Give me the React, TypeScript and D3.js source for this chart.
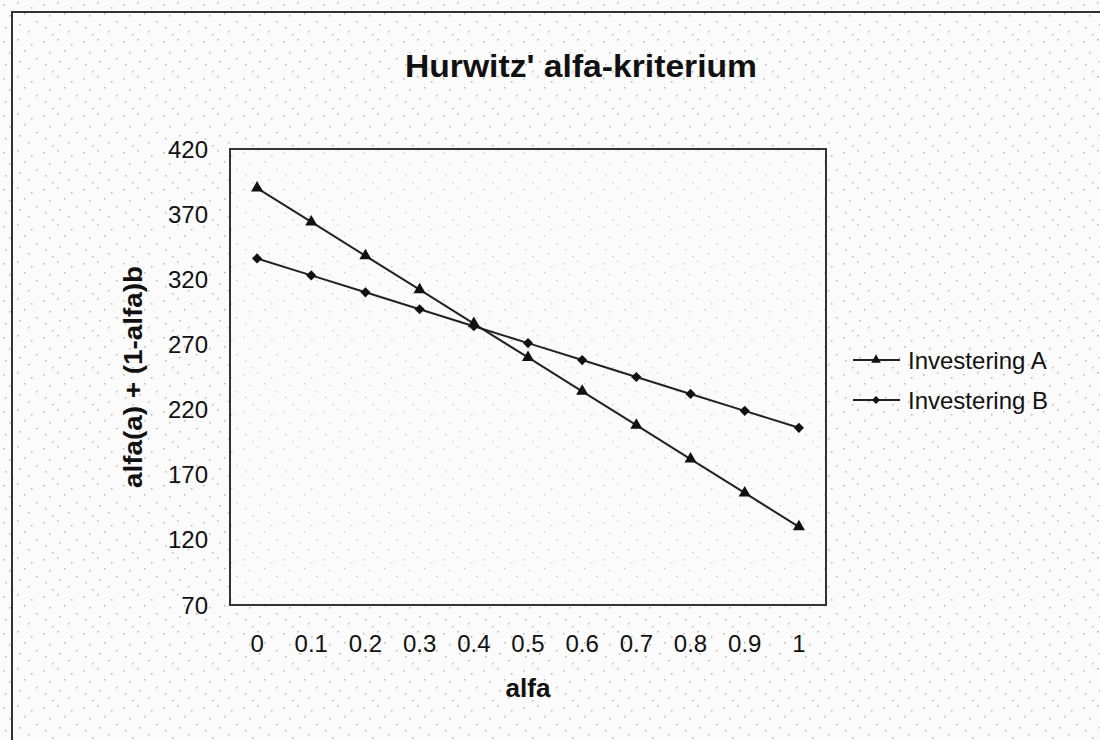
import * as d3 from "d3";

// alfa values on the x axis
const alfas = ["0", "0.1", "0.2", "0.3", "0.4", "0.5", "0.6", "0.7", "0.8", "0.9", "1"];
// alfa(a) + (1-alfa)b for each investment
const investeringA = [390, 364, 338, 312, 286, 260, 234, 208, 182, 156, 130];
const investeringB = [336, 323, 310, 297, 284, 271, 258, 245, 232, 219, 206];
const yTicks = [70, 120, 170, 220, 270, 320, 370, 420];

const series = [
  { name: "Investering A", values: investeringA, symbol: "triangle" },
  { name: "Investering B", values: investeringB, symbol: "diamond" },
];

const W = 1100;
const H = 740;
const plot = { left: 230, right: 826, top: 149, bottom: 605 };
const font = "'Liberation Sans', Arial, Helvetica, sans-serif";
const ink = "#111";

// scattered speckles of the scanned background, one tile
const speckDots = [
  [3, 4], [17, 2], [31, 7], [9, 15], [24, 13], [36, 21],
  [5, 27], [19, 24], [28, 31], [12, 34],
];

const App = () => {
  const x = d3
    .scaleBand<string>()
    .domain(alfas)
    .range([plot.left, plot.right]);

  const y = d3.scaleLinear().domain([70, 420]).range([plot.bottom, plot.top]);

  const cx = (i: number) => x(alfas[i])! + x.bandwidth() / 2;

  const line = d3
    .line<number>()
    .x((d, i) => cx(i))
    .y((d) => y(d));

  const marker = (kind: string, size: number) =>
    kind === "triangle"
      ? d3.symbol(d3.symbolTriangle, size)()!
      : d3.symbol(d3.symbolSquare, size)()!;

  const legendY = [360, 400];

  return (
    <svg
      width={W}
      height={H}
      style={{ position: "absolute", left: 0, top: 0, fontFamily: font }}
    >
      <defs>
        <pattern id="speck" width={40} height={37} patternUnits="userSpaceOnUse">
          <rect width={40} height={37} fill="#fbfbfb" />
          {speckDots.map(([px, py], i) => (
            <rect key={i} x={px} y={py} width={1.5} height={1.5} fill="#b8b8b8" />
          ))}
        </pattern>
      </defs>

      <rect x={0} y={0} width={W} height={H} fill="url(#speck)" />
      <rect
        x={12}
        y={12}
        width={W}
        height={H}
        fill="none"
        stroke="#333"
        strokeWidth={2}
      />

      {/* title is centred on the whole chart area, which runs past the crop */}
      <text
        x={581}
        y={77}
        textAnchor="middle"
        fontSize={32}
        fontWeight="bold"
        textLength={352}
        lengthAdjust="spacingAndGlyphs"
        fill={ink}
      >
        Hurwitz' alfa-kriterium
      </text>

      <rect
        x={plot.left}
        y={plot.top}
        width={plot.right - plot.left}
        height={plot.bottom - plot.top}
        fill="#fcfcfc"
        fillOpacity={0.4}
        stroke="#333"
        strokeWidth={2}
      />

      {yTicks.map((t) => (
        <text
          key={t}
          x={208}
          y={y(t)}
          dy="0.36em"
          textAnchor="end"
          fontSize={24}
          fill={ink}
        >
          {t}
        </text>
      ))}

      {alfas.map((a, i) => (
        <text
          key={a}
          x={cx(i)}
          y={652}
          textAnchor="middle"
          fontSize={24}
          fill={ink}
        >
          {a}
        </text>
      ))}

      <text
        x={(plot.left + plot.right) / 2}
        y={697}
        textAnchor="middle"
        fontSize={25}
        fontWeight="bold"
        textLength={45}
        lengthAdjust="spacingAndGlyphs"
        fill={ink}
      >
        alfa
      </text>

      <text
        transform={`translate(142,${(plot.top + plot.bottom) / 2}) rotate(-90)`}
        textAnchor="middle"
        fontSize={25}
        fontWeight="bold"
        textLength={222}
        lengthAdjust="spacingAndGlyphs"
        fill={ink}
      >
        alfa(a) + (1-alfa)b
      </text>

      {series.map((s) => (
        <g key={s.name}>
          <path d={line(s.values)!} fill="none" stroke="#222" strokeWidth={2} />
          {s.values.map((v, i) => (
            <path
              key={i}
              d={marker(s.symbol, s.symbol === "triangle" ? 64 : 52)}
              transform={`translate(${cx(i)},${y(v)})${
                s.symbol === "diamond" ? " rotate(45)" : ""
              }`}
              fill={ink}
            />
          ))}
        </g>
      ))}

      {series.map((s, i) => (
        <g key={s.name} transform={`translate(0,${legendY[i]})`}>
          <line x1={853} x2={900} y1={0} y2={0} stroke="#222" strokeWidth={2} />
          <path
            d={marker(s.symbol, s.symbol === "triangle" ? 40 : 32)}
            transform={`translate(876,0)${s.symbol === "diamond" ? " rotate(45)" : ""}`}
            fill={ink}
          />
          <text x={908} y={0} dy="0.36em" fontSize={24} fill={ink}>
            {s.name}
          </text>
        </g>
      ))}
    </svg>
  );
};

export default App;
